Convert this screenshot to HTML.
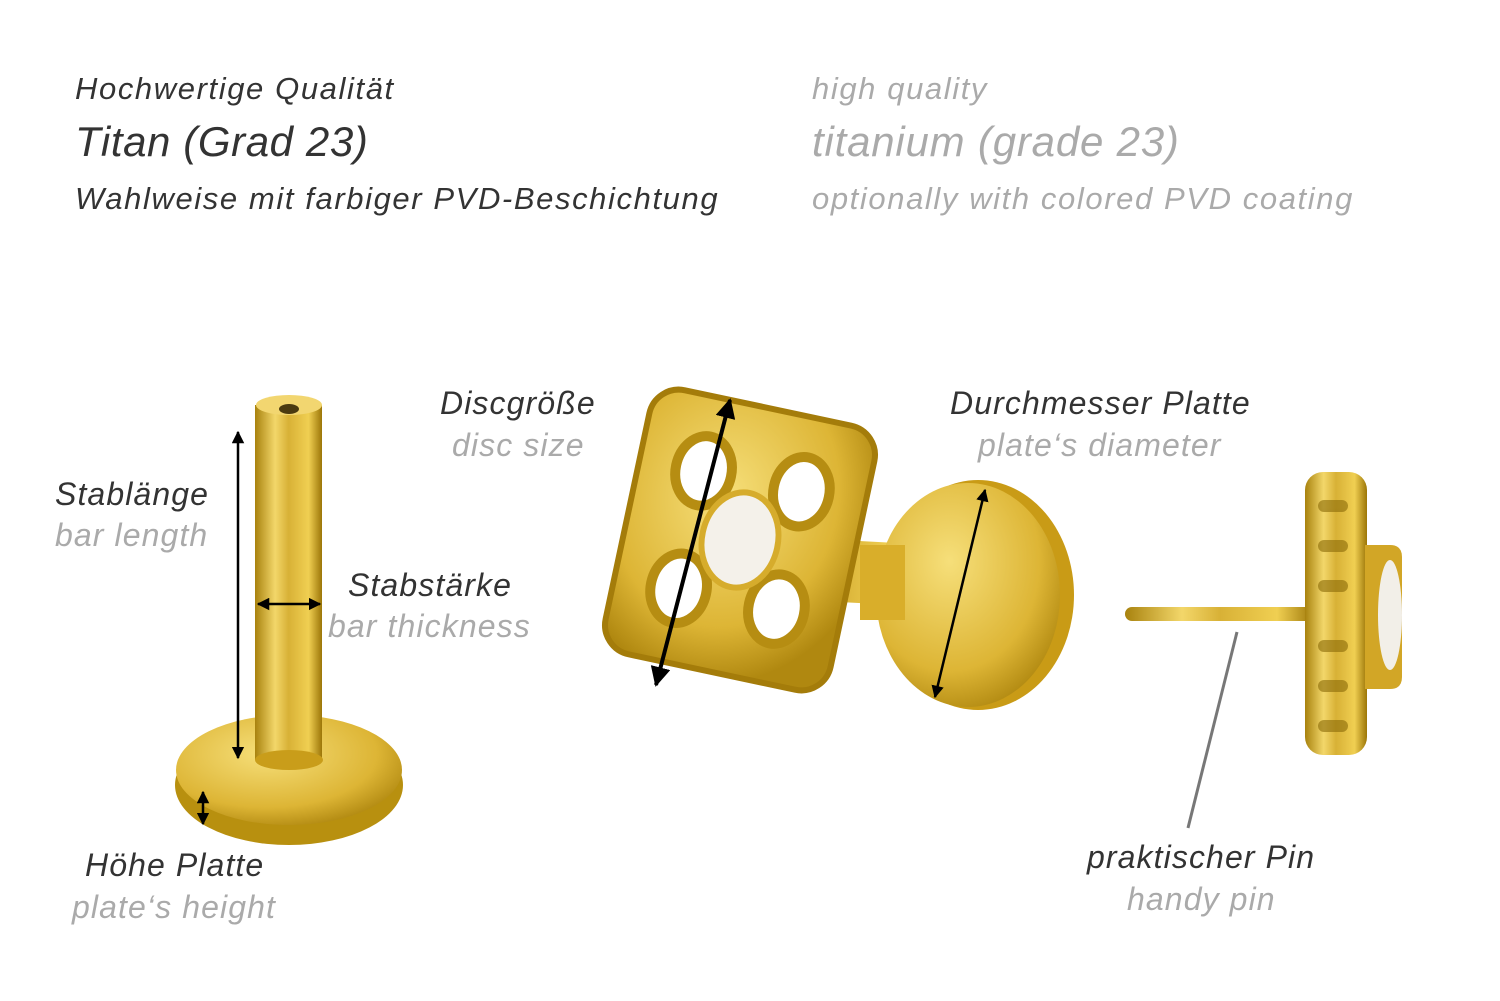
<!DOCTYPE html>
<html><head><meta charset="utf-8"><style>
body{margin:0;background:#fff;width:1500px;height:1001px;overflow:hidden;position:relative;font-family:"Liberation Sans",sans-serif;font-style:italic}
.t{position:absolute;white-space:nowrap;line-height:1;letter-spacing:1.1px}
.d{color:#333}.g{color:#aaa}
.s{letter-spacing:1.6px}
</style></head><body>
<div class="t d s" style="left:75px;top:73px;font-size:31px">Hochwertige Qualität</div>
<div class="t d" style="left:75px;top:121px;font-size:42px;letter-spacing:0.6px">Titan (Grad 23)</div>
<div class="t d s" style="left:75px;top:183px;font-size:31px">Wahlweise mit farbiger PVD-Beschichtung</div>
<div class="t g s" style="left:812px;top:73px;font-size:31px">high quality</div>
<div class="t g" style="left:812px;top:121px;font-size:42px;letter-spacing:0.8px">titanium (grade 23)</div>
<div class="t g s" style="left:812px;top:183px;font-size:31px">optionally with colored PVD coating</div>

<div class="t d" style="left:55px;top:478px;font-size:32px">Stablänge</div>
<div class="t g" style="left:55px;top:519px;font-size:32px">bar length</div>
<div class="t d" style="left:348px;top:569px;font-size:32px">Stabstärke</div>
<div class="t g" style="left:328px;top:610px;font-size:32px">bar thickness</div>
<div class="t d" style="left:85px;top:849px;font-size:32px">Höhe Platte</div>
<div class="t g" style="left:72px;top:891px;font-size:32px">plate‘s height</div>
<div class="t d" style="left:440px;top:387px;font-size:32px">Discgröße</div>
<div class="t g" style="left:452px;top:429px;font-size:32px">disc size</div>
<div class="t d" style="left:950px;top:387px;font-size:32px">Durchmesser Platte</div>
<div class="t g" style="left:978px;top:429px;font-size:32px">plate‘s diameter</div>
<div class="t d" style="left:1087px;top:841px;font-size:32px">praktischer Pin</div>
<div class="t g" style="left:1127px;top:883px;font-size:32px">handy pin</div>

<svg width="1500" height="1001" style="position:absolute;left:0;top:0">
<defs>
<linearGradient id="gh" x1="0" x2="1"><stop offset="0" stop-color="#a8820e"/><stop offset=".3" stop-color="#f3d76a"/><stop offset=".5" stop-color="#d8b136"/><stop offset=".8" stop-color="#f0cf52"/><stop offset="1" stop-color="#9c7608"/></linearGradient>
<radialGradient id="gr" cx=".4" cy=".35" r=".7"><stop offset="0" stop-color="#f6df7a"/><stop offset=".7" stop-color="#ddb535"/><stop offset="1" stop-color="#b08810"/></radialGradient>
<marker id="a" viewBox="0 0 10 10" refX="9" refY="5" markerWidth="5" markerHeight="5" orient="auto-start-reverse"><path d="M0 0L10 5L0 10z" fill="#000"/></marker>
</defs>
<ellipse cx="289" cy="785" rx="114" ry="60" fill="#b8900f"/>
<ellipse cx="289" cy="770" rx="113" ry="55" fill="url(#gr)"/>
<rect x="255" y="405" width="67" height="355" fill="url(#gh)"/>
<ellipse cx="289" cy="760" rx="34" ry="10" fill="#c99d1a"/>
<ellipse cx="289" cy="405" rx="33" ry="10" fill="#f2d670"/>
<ellipse cx="289" cy="409" rx="10" ry="5" fill="#4a3a10"/>
<line x1="238" y1="432" x2="238" y2="758" stroke="#000" stroke-width="2.5" marker-start="url(#a)" marker-end="url(#a)"/>
<line x1="258" y1="604" x2="320" y2="604" stroke="#000" stroke-width="2.5" marker-start="url(#a)" marker-end="url(#a)"/>
<line x1="203" y1="792" x2="203" y2="824" stroke="#000" stroke-width="2.5" marker-start="url(#a)" marker-end="url(#a)"/>
<rect x="760" y="540" width="160" height="62" fill="url(#gh)" transform="rotate(3 840 570)"/>
<ellipse cx="978" cy="595" rx="96" ry="115" fill="#c99b16"/>
<ellipse cx="968" cy="595" rx="92" ry="112" fill="url(#gr)"/>
<rect x="860" y="545" width="45" height="75" fill="#d9ae2a"/>
<g transform="rotate(12 740 540)">
<rect x="625" y="405" width="230" height="270" rx="30" fill="url(#gr)"/>
<rect x="625" y="405" width="230" height="270" rx="30" fill="none" stroke="#a47c0a" stroke-width="6"/>
<ellipse cx="690" cy="480" rx="28" ry="35" fill="#fff" stroke="#b68d12" stroke-width="10"/>
<ellipse cx="790" cy="480" rx="28" ry="35" fill="#fff" stroke="#b68d12" stroke-width="10"/>
<ellipse cx="690" cy="600" rx="28" ry="35" fill="#fff" stroke="#b68d12" stroke-width="10"/>
<ellipse cx="790" cy="600" rx="28" ry="35" fill="#fff" stroke="#b68d12" stroke-width="10"/>
<ellipse cx="740" cy="540" rx="38" ry="48" fill="#f4f1ea" stroke="#d6ac2c" stroke-width="6"/>
</g>
<line x1="730" y1="400" x2="656" y2="685" stroke="#000" stroke-width="4" marker-start="url(#a)" marker-end="url(#a)"/>
<line x1="985" y1="490" x2="935" y2="697" stroke="#000" stroke-width="2.5" marker-start="url(#a)" marker-end="url(#a)"/>
<rect x="1125" y="607" width="190" height="14" rx="7" fill="url(#gh)"/>
<rect x="1305" y="472" width="62" height="283" rx="18" fill="url(#gh)"/>
<path d="M1365 545 h25 q12 0 12 12 v120 q0 12 -12 12 h-25z" fill="#d2a626"/>
<ellipse cx="1390" cy="615" rx="12" ry="55" fill="#f2efe8"/>
<g fill="#8a6a08" opacity=".6"><rect x="1318" y="500" width="30" height="12" rx="6"/><rect x="1318" y="540" width="30" height="12" rx="6"/><rect x="1318" y="580" width="30" height="12" rx="6"/><rect x="1318" y="640" width="30" height="12" rx="6"/><rect x="1318" y="680" width="30" height="12" rx="6"/><rect x="1318" y="720" width="30" height="12" rx="6"/></g>
<line x1="1237" y1="632" x2="1188" y2="828" stroke="#777" stroke-width="3"/>
</svg>
</body></html>
